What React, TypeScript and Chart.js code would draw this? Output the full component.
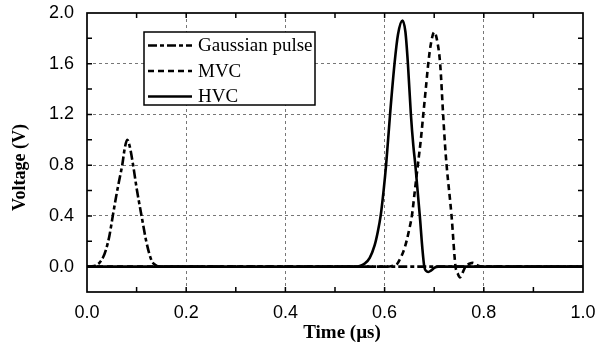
import React, { useEffect, useRef } from "react";
import { Chart, registerables } from "chart.js";

Chart.register(...registerables);

// ---- Data (time in µs, voltage in V) ----
const seriesNames = ["Gaussian pulse", "MVC", "HVC"];

const gaussT = [0, 0.01, 0.018, 0.025, 0.032, 0.038, 0.045, 0.052, 0.06, 0.066, 0.071, 0.076, 0.081, 0.086, 0.093, 0.1, 0.11, 0.12, 0.13, 0.138, 0.146, 1.0];
const gaussV = [0, 0.002, 0.01, 0.03, 0.07, 0.13, 0.24, 0.4, 0.58, 0.7, 0.8, 0.93, 1.0, 0.95, 0.8, 0.62, 0.4, 0.19, 0.05, 0.012, 0, 0];

const mvcT = [0, 0.6, 0.615, 0.625, 0.631, 0.638, 0.6445, 0.65, 0.655, 0.661, 0.667, 0.673, 0.678, 0.683, 0.688, 0.693, 0.7, 0.706, 0.712, 0.718, 0.722, 0.725, 0.735, 0.743, 0.748, 0.752, 0.756, 0.763, 0.772, 0.778, 0.785, 0.795, 1.0];
const mvcV = [0, 0, 0.005, 0.02, 0.06, 0.12, 0.205, 0.3, 0.4, 0.6, 0.8, 1.0, 1.2, 1.4, 1.6, 1.75, 1.85, 1.78, 1.6, 1.2, 0.95, 0.8, 0.4, 0, -0.06, -0.085, -0.06, 0, 0.025, 0.03, 0.015, 0, 0];

const hvcT = [0, 0.54, 0.55, 0.56, 0.57, 0.58, 0.586, 0.592, 0.598, 0.603, 0.611, 0.62, 0.627, 0.636, 0.642, 0.647, 0.653, 0.658, 0.662, 0.671, 0.676, 0.68, 0.684, 0.688, 0.694, 0.7, 0.708, 1.0];
const hvcV = [0, 0, 0.005, 0.025, 0.07, 0.17, 0.27, 0.4, 0.6, 0.8, 1.2, 1.6, 1.83, 1.94, 1.85, 1.6, 1.2, 0.95, 0.8, 0.4, 0.15, 0, -0.035, -0.042, -0.03, -0.01, 0, 0];

const xTickValues = [0, 0.2, 0.4, 0.6, 0.8, 1.0];
const xMinorTicks = [0.1, 0.2, 0.3, 0.4, 0.5, 0.6, 0.7, 0.8, 0.9];
const yTickValues = [0, 0.4, 0.8, 1.2, 1.6, 2.0];
const yMinorTicks = [0, 0.2, 0.4, 0.6, 0.8, 1.0, 1.2, 1.4, 1.6, 1.8];

const xTitle = "Time (µs)";
const yTitle = "Voltage (V)";

const toPoints = (t: number[], v: number[]) => t.map((x, i) => ({ x, y: v[i] }));

const near = (v: number, list: number[]) => list.some((l) => Math.abs(l - v) < 1e-6);

const decorPlugin = {
  id: "decor",
  afterDatasetsDraw(chart: any) {
    const { ctx, chartArea: a, scales } = chart;
    const xs = scales.x;
    const ys = scales.y;
    ctx.save();
    // inward minor ticks
    ctx.strokeStyle = "#000";
    ctx.lineWidth = 1.5;
    ctx.setLineDash([]);
    ctx.beginPath();
    for (const t of xMinorTicks) {
      const px = xs.getPixelForValue(t);
      ctx.moveTo(px, a.bottom);
      ctx.lineTo(px, a.bottom - 5);
      ctx.moveTo(px, a.top);
      ctx.lineTo(px, a.top + 5);
    }
    for (const v of yMinorTicks) {
      const py = ys.getPixelForValue(v);
      ctx.moveTo(a.left, py);
      ctx.lineTo(a.left + 5, py);
      ctx.moveTo(a.right, py);
      ctx.lineTo(a.right - 5, py);
    }
    ctx.stroke();
    // frame
    ctx.lineWidth = 1.7;
    ctx.strokeRect(a.left, a.top, a.right - a.left, a.bottom - a.top);

    // legend
    const lx = a.left + 57;
    const ly = a.top + 19;
    const lw = 171;
    const lh = 73;
    ctx.fillStyle = "#fff";
    ctx.fillRect(lx, ly, lw, lh);
    ctx.lineWidth = 1.5;
    ctx.strokeStyle = "#000";
    ctx.strokeRect(lx, ly, lw, lh);
    const ds = chart.data.datasets;
    ctx.font = "19px 'Liberation Serif'";
    ctx.textBaseline = "middle";
    ctx.textAlign = "left";
    ds.forEach((d: any, i: number) => {
      const ry = ly + 13.5 + i * 25.5;
      ctx.beginPath();
      ctx.setLineDash(d.borderDash || []);
      ctx.lineWidth = d.borderWidth;
      ctx.moveTo(lx + 4, ry);
      ctx.lineTo(lx + 48, ry);
      ctx.stroke();
      ctx.setLineDash([]);
      ctx.fillStyle = "#000";
      ctx.fillText(d.label, lx + 54, ry + 1);
    });

    // axis titles
    ctx.font = "bold 19px 'Liberation Serif'";
    ctx.textAlign = "center";
    ctx.textBaseline = "middle";
    ctx.fillText(xTitle, (a.left + a.right) / 2 + 7, 333);
    ctx.save();
    ctx.translate(20, (a.top + a.bottom) / 2 + 15);
    ctx.rotate(-Math.PI / 2);
    ctx.font = "bold 18px 'Liberation Serif'";
    ctx.fillText(yTitle, 0, 0);
    ctx.restore();
    ctx.restore();
  },
};

export default function App() {
  const ref = useRef<HTMLCanvasElement>(null);
  useEffect(() => {
    document.body.style.margin = "0";
    const canvas = ref.current;
    if (!canvas) return;
    const common = {
      borderColor: "#000",
      borderWidth: 2.6,
      pointRadius: 0,
      fill: false,
      cubicInterpolationMode: "monotone" as const,
    };
    const chart = new Chart(canvas, {
      type: "line",
      data: {
        datasets: [
          { ...common, label: seriesNames[0], data: toPoints(gaussT, gaussV), borderDash: [9, 3, 4, 3] },
          { ...common, label: seriesNames[1], data: toPoints(mvcT, mvcV), borderDash: [6, 4] },
          { ...common, label: seriesNames[2], data: toPoints(hvcT, hvcV), borderDash: [] },
        ],
      },
      options: {
        animation: false,
        responsive: false,
        parsing: false,
        layout: { padding: { left: 0, right: 12, top: 13, bottom: 0 } },
        plugins: { legend: { display: false }, tooltip: { enabled: false } },
        scales: {
          x: {
            type: "linear",
            min: 0,
            max: 1,
            afterFit: (s: any) => {
              s.height = 53;
              s.paddingLeft = 0;
              s.paddingRight = 0;
            },
            ticks: {
              stepSize: 0.1,
              autoSkip: false,
              maxRotation: 0,
              padding: 10,
              color: "#000",
              font: { family: "'Liberation Sans'", size: 18 },
              callback: (v: any) => (near(Number(v), xTickValues) ? Number(v).toFixed(1) : ""),
            },
            grid: {
              drawTicks: false,
              lineWidth: 1,
              color: (c: any) => {
                const v = c.tick ? c.tick.value : 0;
                return near(v, xTickValues) && v > 0.01 && v < 0.99 ? "#777" : "rgba(0,0,0,0)";
              },
            },
            border: { display: false, dash: [3, 3] },
          },
          y: {
            type: "linear",
            min: -0.2,
            max: 2.0,
            afterFit: (s: any) => {
              s.width = 87;
              s.paddingTop = 0;
              s.paddingBottom = 0;
            },
            ticks: {
              stepSize: 0.2,
              autoSkip: false,
              padding: 13,
              color: "#000",
              font: { family: "'Liberation Sans'", size: 18 },
              callback: (v: any) => (near(Number(v), yTickValues) ? Number(v).toFixed(1) : ""),
            },
            grid: {
              drawTicks: false,
              lineWidth: 1,
              color: (c: any) => {
                const v = c.tick ? c.tick.value : 0;
                return near(v, yTickValues) && v > 0.01 && v < 1.99 ? "#777" : "rgba(0,0,0,0)";
              },
            },
            border: { display: false, dash: [3, 3] },
          },
        },
      },
      plugins: [decorPlugin],
    });
    return () => chart.destroy();
  }, []);
  return (
    <div style={{ width: 595, height: 345 }}>
      <canvas ref={ref} width={595} height={345} style={{ display: "block" }} />
    </div>
  );
}
